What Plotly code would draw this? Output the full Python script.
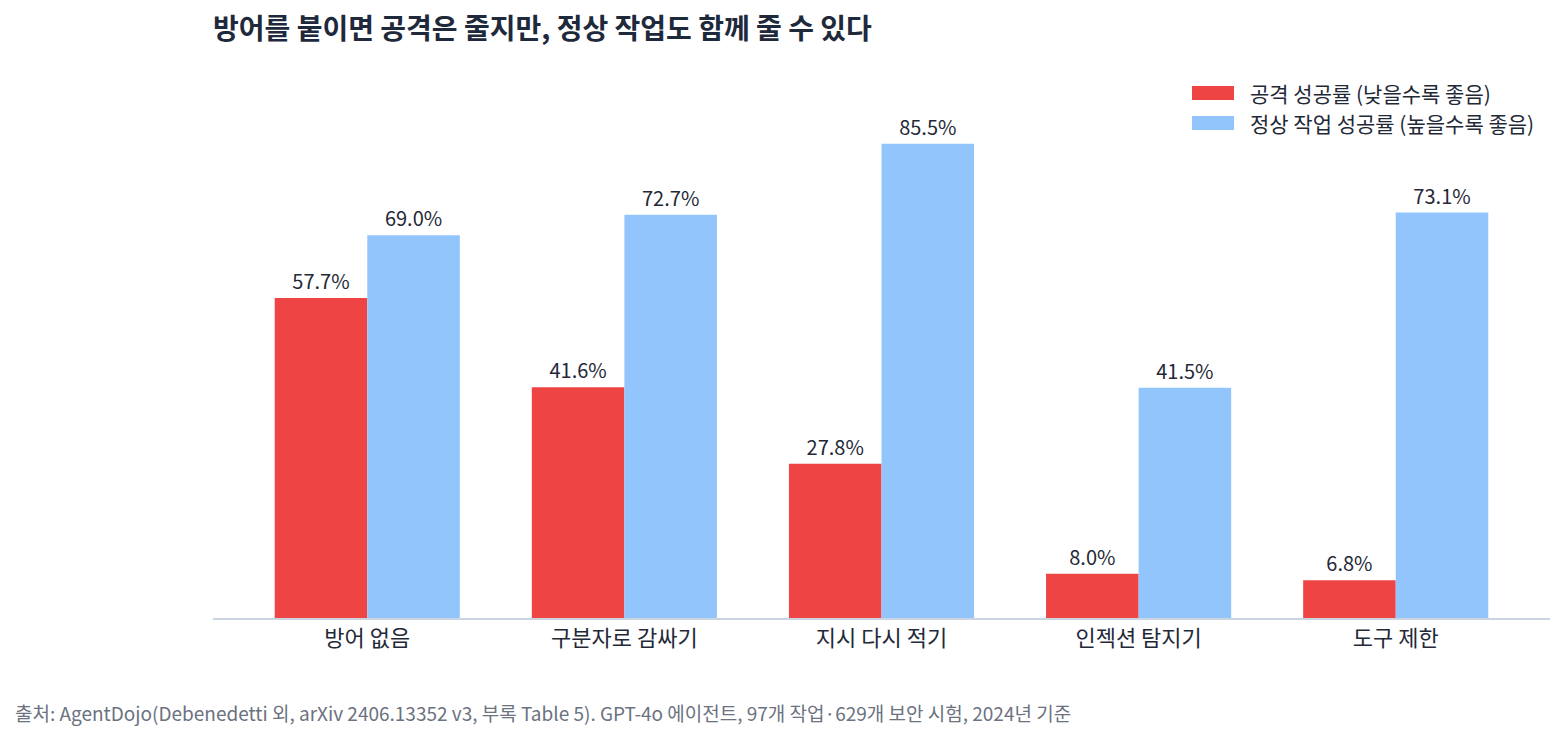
import plotly.graph_objects as go

categories = ["방어 없음", "구분자로 감싸기", "지시 다시 적기", "인젝션 탐지기", "도구 제한"]
attack_success = [57.7, 41.6, 27.8, 8.0, 6.8]
task_success = [69.0, 72.7, 85.5, 41.5, 73.1]
series_names = ["공격 성공률 (낮을수록 좋음)", "정상 작업 성공률 (높을수록 좋음)"]

FONT = "Noto Sans CJK KR"
RED = "#ef4444"
BLUE = "#93c5fd"
TEXT = "#1f2937"

# page is drawn with an 8px body offset; plot area on screen: x 213..1550, y 75..618
PX_L, PX_R, PX_T, PX_B = 213, 1550, 75, 618


def px(sx, sy):
    return (sx - PX_L) / (PX_R - PX_L), (PX_B - sy) / (PX_B - PX_T)


fig = go.Figure()
for vals, name, color in [(attack_success, series_names[0], RED),
                          (task_success, series_names[1], BLUE)]:
    fig.add_trace(go.Bar(
        x=categories, y=vals, name=name,
        marker=dict(color=color, line=dict(width=0)),
        text=[f"{v:.1f}%" for v in vals], textposition="outside",
        textfont=dict(size=20, color=TEXT), cliponaxis=False,
        showlegend=False,
    ))

fig.update_layout(
    width=1565, height=739,
    template="plotly_white",
    font=dict(family=FONT, color=TEXT),
    title=dict(text="<b>방어를 붙이면 공격은 줄지만, 정상 작업도 함께 줄 수 있다</b>",
               x=(PX_L - 8) / 1565, xanchor="left", y=1 - 21 / 739, yanchor="middle",
               font=dict(size=28, color="#1e293b")),
    margin=dict(l=PX_L - 8, r=1565 - PX_R + 8, t=PX_T - 8, b=739 - PX_B + 8),
    barmode="group", bargap=0.28, bargroupgap=0,
    plot_bgcolor="white", paper_bgcolor="white",
)
fig.update_xaxes(range=[-0.6, 4.6], showline=True, linecolor="#cbd5e1", linewidth=2,
                 tickfont=dict(size=22, color=TEXT), ticks="", showgrid=False)
fig.update_yaxes(range=[0, 97.9], visible=False, showgrid=False)

# legend drawn by hand to get the wide swatches
for i, (name, color) in enumerate(zip(series_names, [RED, BLUE])):
    top = 86 + 30 * i
    x0, y1 = px(1192, top)
    x1, y0 = px(1234, top + 14)
    fig.add_shape(type="rect", xref="paper", yref="paper", x0=x0, x1=x1, y0=y0, y1=y1,
                  fillcolor=color, line=dict(width=0))
    tx, ty = px(1248, top + 7)
    fig.add_annotation(text=name, xref="paper", yref="paper", x=tx, y=ty,
                       xanchor="left", yanchor="middle", showarrow=False,
                       font=dict(size=21, color=TEXT))

sx, sy = px(13, 712)
fig.add_annotation(
    text="출처: AgentDojo(Debenedetti 외, arXiv 2406.13352 v3, 부록 Table 5). GPT-4o 에이전트, 97개 작업·629개 보안 시험, 2024년 기준",
    xref="paper", yref="paper", x=sx, xanchor="left", y=sy, yanchor="middle",
    showarrow=False, font=dict(size=19, color="#6b7280"),
)

fig.write_html("out.html")
